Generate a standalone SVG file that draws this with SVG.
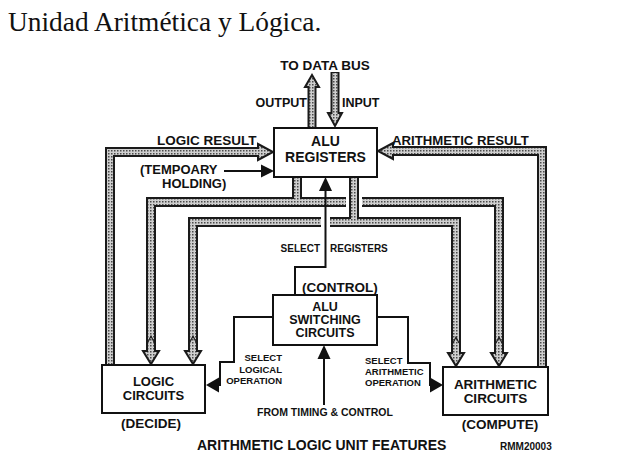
<svg xmlns="http://www.w3.org/2000/svg" width="636" height="475" viewBox="0 0 636 475">
<defs>
<pattern id="st" width="3" height="3" patternUnits="userSpaceOnUse"><rect width="3" height="3" fill="#cfcfcf"/><rect width="1.5" height="1.5" fill="#4a4a4a"/></pattern>
<style>
.t{font-family:"Liberation Sans",Arial,sans-serif;font-weight:bold;fill:#111}
.c{text-anchor:middle}
.e{text-anchor:end}
.f13{font-size:13.5px}
.f10{font-size:10px}
.f9{font-size:9.5px}
.box{fill:#fff;stroke:#111;stroke-width:2}
.pd{fill:none;stroke:#1a1a1a;stroke-width:10;stroke-linejoin:miter;stroke-linecap:butt}
.pi{fill:none;stroke:url(#st);stroke-width:6;stroke-linejoin:miter;stroke-linecap:butt}
.pdn{fill:none;stroke:#1a1a1a;stroke-width:9}
.pin{fill:none;stroke:url(#st);stroke-width:5}
.ah{fill:url(#st);stroke:#1a1a1a;stroke-width:2;stroke-linejoin:miter}
.ln{fill:none;stroke:#111;stroke-width:2}
.fa{fill:#111}
.wg{fill:none;stroke:#fff;stroke-width:16}
</style>
</defs>
<rect width="636" height="475" fill="#fff"/>
<text x="8" y="31" style="font-family:'Liberation Serif','Times New Roman',serif;font-size:27.4px;fill:#111">Unidad Aritmética y Lógica.</text>

<g id="connectors">
  <!-- data bus output/input -->
  <path class="pdn" d="M312,128 V86"/>
  <polygon class="ah" points="305,87 319,87 312,75"/>
  <path class="pin" d="M312,128 V85"/>
  <path class="pdn" d="M335,72 V114"/>
  <polygon class="ah" points="328,113 342,113 335,126"/>
  <path class="pin" d="M335,73 V115"/>

  <!-- outer result pipes -->
  <path class="pd" d="M110,365 V152 H259"/>
  <path class="pd" d="M542,367 V151 H392"/>
  <polygon class="ah" points="258,144 273,152 258,160"/>
  <polygon class="ah" points="393,143 378,151 393,159"/>
  <path class="pi" d="M110,365 V152 H260"/>
  <path class="pi" d="M542,367 V151 H391"/>

  <!-- upper network (left register pipe) -->
  <path class="pd" d="M297,177 V202"/>
  <path class="pd" d="M151,351 V202 H499 V353"/>
  <polygon class="ah" points="143,351 159,351 151,364"/>
  <polygon class="ah" points="491,353 507,353 499,366"/>
  <path class="pi" d="M297,177 V202"/>
  <path class="pi" d="M151,352 V202 H499 V354"/>

  <!-- lower network (right register pipe) -->
  <path class="wg" d="M354,195 V209"/>
  <path class="pd" d="M354,177 V222"/>
  <path class="pd" d="M193,351 V222 H456 V353"/>
  <polygon class="ah" points="185,351 201,351 193,364"/>
  <polygon class="ah" points="448,353 464,353 456,366"/>
  <path class="pi" d="M354,177 V222"/>
  <path class="pi" d="M193,352 V222 H456 V354"/>

  <!-- small chevrons inside pipes -->
  <path d="M148,342 L151,336 L154,342 M190,342 L193,336 L196,342 M453,343 L456,337 L459,343 M496,343 L499,337 L502,343" fill="none" stroke="#222" stroke-width="1.2"/>

  <!-- gap in lower pipe for control line -->
  <rect x="321" y="215" width="9" height="14" fill="#fff"/>

  <!-- control: select registers -->
  <path class="ln" d="M295,295 V267 H325.5 V190"/>
  <polygon class="fa" points="319,191 325.5,177 332,191"/>

  <!-- temporary holding -->
  <path class="ln" d="M224,171 H262"/>
  <polygon class="fa" points="261,164.5 274,171 261,177.5"/>

  <!-- select logical operation -->
  <path class="ln" d="M273,317 H234 V362 H220 V385 H217"/>
  <polygon class="fa" points="219,377.5 206,385 219,392.5"/>

  <!-- select arithmetic operation -->
  <path class="ln" d="M377,317 H408 V363 H430 V385 H432"/>
  <polygon class="fa" points="430,377.5 443,385 430,392.5"/>

  <!-- from timing & control -->
  <path class="ln" d="M324,405 V358"/>
  <polygon class="fa" points="317.5,359 324,345 330.5,359"/>
</g>

<g id="alu-registers">
  <rect class="box" x="274" y="128" width="103" height="49"/>
  <text class="t c" x="325.5" y="146" style="font-size:14px">ALU</text>
  <text class="t c" x="325.5" y="162" style="font-size:14px">REGISTERS</text>
</g>

<g id="alu-switching">
  <rect class="box" x="273" y="295" width="104" height="50"/>
  <text class="t c" x="325" y="311" style="font-size:12.5px">ALU</text>
  <text class="t c" x="325" y="324" style="font-size:12.5px">SWITCHING</text>
  <text class="t c" x="325" y="337" style="font-size:12.5px">CIRCUITS</text>
</g>

<g id="logic-circuits">
  <rect class="box" x="102" y="365" width="103" height="48"/>
  <text class="t c" x="153.5" y="386" style="font-size:13px">LOGIC</text>
  <text class="t c" x="153.5" y="400" style="font-size:13px">CIRCUITS</text>
</g>

<g id="arithmetic-circuits">
  <rect class="box" x="443" y="367" width="105" height="48"/>
  <text class="t c f13" x="495.5" y="389">ARITHMETIC</text>
  <text class="t c f13" x="495.5" y="403">CIRCUITS</text>
</g>

<g id="labels">
  <text class="t c f13" x="325" y="70">TO DATA BUS</text>
  <text class="t e" x="307" y="107" style="font-size:12.5px">OUTPUT</text>
  <text class="t" x="342" y="107" style="font-size:12.5px">INPUT</text>
  <text class="t f13" x="157" y="145">LOGIC RESULT</text>
  <text class="t" x="392" y="145" style="font-size:13.2px">ARITHMETIC RESULT</text>
  <text class="t" x="140" y="174" style="font-size:13px">(TEMPOARY</text>
  <text class="t" x="162" y="188" style="font-size:13px">HOLDING)</text>
  <text class="t e f10" x="320" y="252">SELECT</text>
  <text class="t f10" x="330" y="252">REGISTERS</text>
  <text class="t f13" x="302" y="292">(CONTROL)</text>
  <text class="t e f9" x="282" y="361">SELECT</text>
  <text class="t e f9" x="282" y="372.5">LOGICAL</text>
  <text class="t e f9" x="282" y="384">OPERATION</text>
  <text class="t f9" x="365" y="364">SELECT</text>
  <text class="t f9" x="365" y="375">ARITHMETIC</text>
  <text class="t f9" x="365" y="386">OPERATION</text>
  <text class="t c" x="325" y="416" style="font-size:10.5px">FROM TIMING &amp; CONTROL</text>
  <text class="t f13" x="151" y="428" style="text-anchor:middle">(DECIDE)</text>
  <text class="t f13" x="500" y="429" style="text-anchor:middle">(COMPUTE)</text>
  <text class="t" x="197" y="450" style="font-size:14px">ARITHMETIC LOGIC UNIT FEATURES</text>
  <text class="t f10" x="500" y="450">RMM20003</text>
</g>
</svg>
